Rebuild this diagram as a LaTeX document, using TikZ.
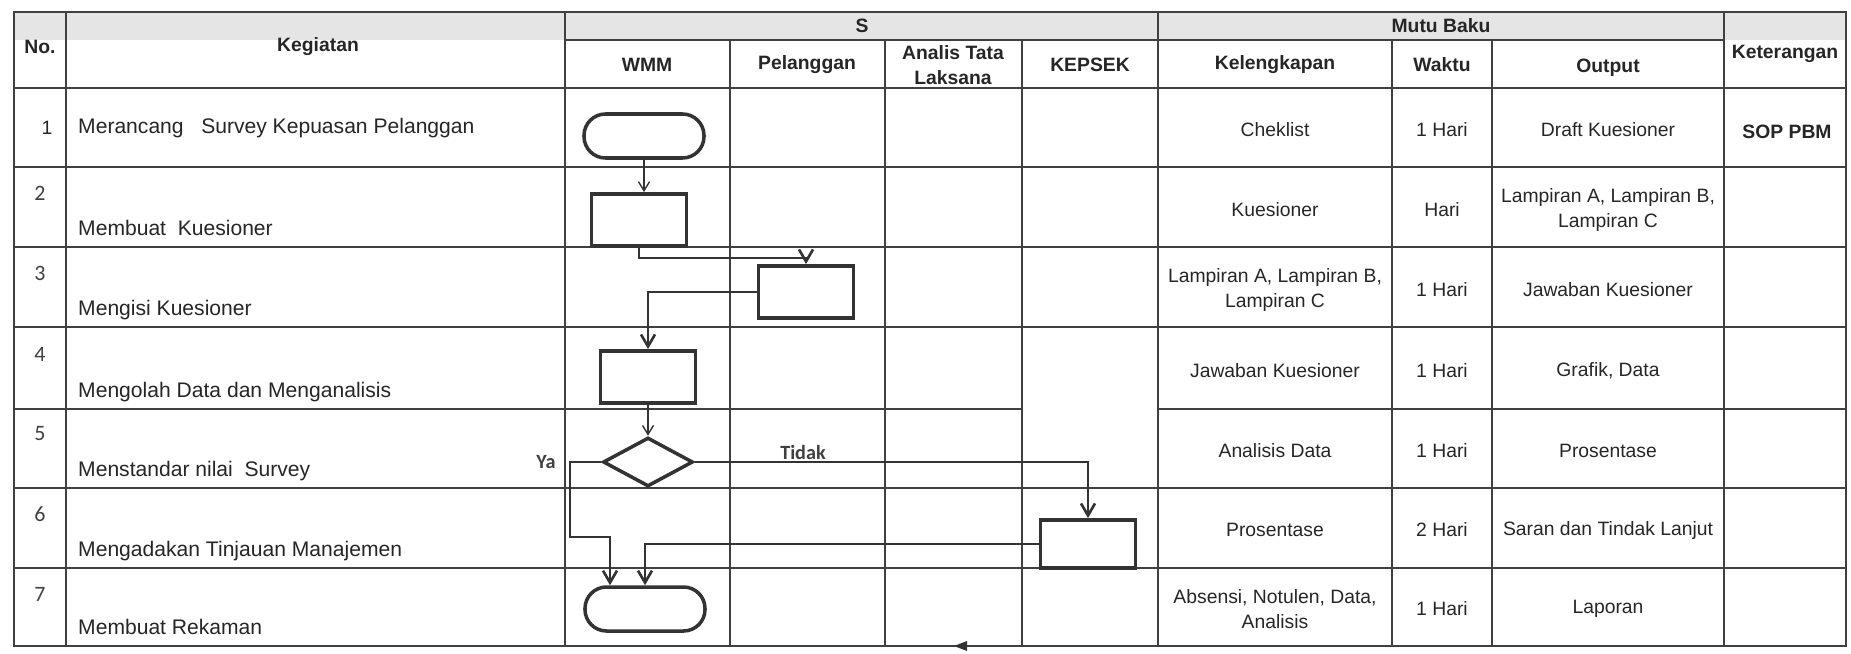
\documentclass[tikz,border=0pt]{standalone}
\usepackage{fontspec}
\setmainfont{Liberation Sans}
\newfontfamily\calfont{Carlito}
\usetikzlibrary{arrows.meta,shapes.geometric}
\begin{document}
\begin{tikzpicture}[x=0.2mm,y=-0.2mm,
  tabline/.style={line width=1pt,draw=black!75},
  procbox/.style={draw=black!80,line width=2.2pt,minimum width=19mm,minimum height=10.4mm,inner sep=0pt},
  termbox/.style={draw=black!80,line width=2pt,rounded corners=4.3mm,minimum width=24mm,minimum height=8.8mm,inner sep=0pt},
  decbox/.style={draw=black!80,line width=2pt,diamond,minimum width=18mm,minimum height=9.8mm,inner sep=0pt},
  flow/.style={draw=black!80,line width=1.5pt,-{Straight Barb[length=2.4mm,width=2.8mm]}},
  thinflow/.style={draw=black!80,line width=0.8pt,-{Straight Barb[length=1.8mm,width=2.2mm]}},
  head/.style={font=\bfseries\fontsize{11}{14}\selectfont,text=black!85,align=center},
  cell/.style={font=\fontsize{11}{14}\selectfont,text=black!85,align=center},
  act/.style={font=\fontsize{12}{14}\selectfont,text=black!85,anchor=base west},
  num/.style={font=\calfont\fontsize{12.5}{14}\selectfont,text=black!75},
  lbl/.style={font=\calfont\bfseries\fontsize{11.5}{13}\selectfont,text=black!75}]
\useasboundingbox (0,0) rectangle (1851,653);
\fill[gray!20] (14,12) rectangle (1846,40);
% table
\draw[tabline] (14,12) rectangle (1846,646);
\draw[tabline] (565,40) -- (1724,40);
\foreach \y in {88,167,247,327,488,568} \draw[tabline] (14,\y) -- (1846,\y);
\draw[tabline] (14,409) -- (1022,409) (1158,409) -- (1846,409);
\foreach \x in {66,565,1158,1724} \draw[tabline] (\x,12) -- (\x,646);
\foreach \x in {730,885,1022,1392,1492} \draw[tabline] (\x,40) -- (\x,646);
\fill[black!80] (954,646) -- (967,641) -- (967,651) -- cycle;
% headers
\node[head] (hno) at (40,47) {No.};
\node[head] (hkeg) at (318,47) {Kegiatan};
\node[head] (hs) at (862,26) {S};
\node[head] (hmutu) at (1441,26) {Mutu Baku};
\node[head] (hket) at (1785,54) {Keterangan};
\node[head] (hwmm) at (647,65) {WMM};
\node[head] (hpel) at (807,65) {Pelanggan};
\node[head] (hatl) at (953,65) {Analis Tata\\Laksana};
\node[head] (hkep) at (1090,65) {KEPSEK};
\node[head] (hkel) at (1275,65) {Kelengkapan};
\node[head] (hwak) at (1442,65) {Waktu};
\node[head] (hout) at (1608,68) {Output};
% activities
\node[cell] (n1) at (47,128) {1};
\node[act,anchor=west] (k1) at (72,128) {Merancang\ \ \ Survey Kepuasan Pelanggan};
\foreach \n/\ny/\by/\txt in {2/193/235/{Membuat\ \ Kuesioner},3/273/315/{Mengisi Kuesioner},
  4/354/397/{Mengolah Data dan Menganalisis},5/434/476/{Menstandar nilai\ \ Survey},
  6/514/556/{Mengadakan Tinjauan Manajemen},7/594/634/{Membuat Rekaman}}{
  \node[num] (n\n) at (40,\ny) {\n};
  \node[act] (k\n) at (72,\by) {\txt};
}
% mutu baku
\foreach \r/\cy/\kel/\wak/\out in {1/130/{Cheklist}/{1 Hari}/{Draft Kuesioner},
  2/210/{Kuesioner}/{Hari}/{Lampiran A, Lampiran B,\\Lampiran C},
  3/290/{Lampiran A, Lampiran B,\\Lampiran C}/{1 Hari}/{Jawaban Kuesioner},
  4/371/{Jawaban Kuesioner}/{1 Hari}/{Grafik, Data},
  5/451/{Analisis Data}/{1 Hari}/{Prosentase},
  6/530/{Prosentase}/{2 Hari}/{Saran dan Tindak Lanjut},
  7/609/{Absensi, Notulen, Data,\\Analisis}/{1 Hari}/{Laporan}}{
  \node[cell] (kel\r) at (1275,\cy) {\kel};
  \node[cell] (wak\r) at (1442,\cy) {\wak};
  \node[cell] (out\r) at (1608,\cy) {\out};
}
\node[head] (ket1) at (1787,132) {SOP PBM};
% flow
\node[termbox] (start) at (644,136) {};
\node[procbox] (b1) at (639,220) {};
\node[procbox] (b2) at (806,292) {};
\node[procbox] (b3) at (648,377) {};
\node[decbox] (dia) at (648,462) {};
\node[procbox,minimum height=9.6mm] (b4) at (1088,544) {};
\node[termbox] (fin) at (645,609) {};
\coordinate (yaturn) at (570,537);
\coordinate (yadrop) at (610,537);
\draw[thinflow] (start.south) -- (start.south |- b1.north);
\draw[flow] (b1.south) -- ++(0,10) -| (b2.north);
\draw[flow] (b2.west) -| (b3.north);
\draw[thinflow] (b3.south) -- (dia.north);
\draw[flow] (dia.west) -| (yaturn) -- (yadrop) -- (yadrop |- fin.north);
\draw[flow] (dia.east) -| (b4.north);
\draw[flow] (b4.west) -| (fin.north);
\node[lbl] (ya) at (546,462) {Ya};
\node[lbl] (tidak) at (803,452) {Tidak};
\end{tikzpicture}
\end{document}
